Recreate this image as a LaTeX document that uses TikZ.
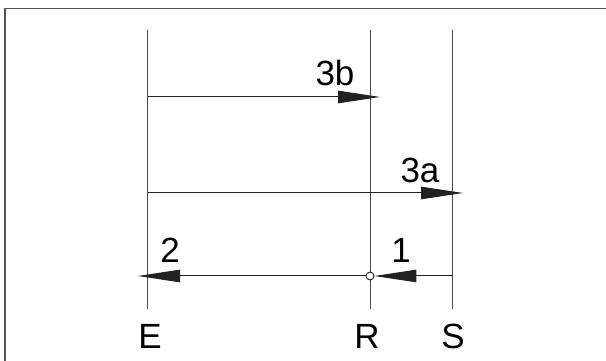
\documentclass[tikz,border=0pt]{standalone}
\usepackage{fontspec}
\setmainfont{Liberation Sans}
\usetikzlibrary{arrows.meta}
\definecolor{framegray}{HTML}{555555}
\definecolor{linegray}{HTML}{4A4A4A}
\definecolor{arrowline}{HTML}{222222}
\begin{document}
\begin{tikzpicture}[x=1pt,y=1pt,
  frameline/.style={draw=framegray, line width=1.4pt},
  axisline/.style={draw=linegray, line width=1pt},
  msgline/.style={draw=arrowline, line width=1pt, -{Triangle[length=42pt,width=12.5pt]}},
  lbl/.style={font=\fontsize{35}{35}\selectfont, inner sep=0pt}]
\useasboundingbox (0,0) rectangle (606,361);
\clip (0,0) rectangle (606,361);
\fill[white] (0,0) rectangle (606,361);
% frame (only top and left visible)
\draw[frameline] (5,-10) -- (5,352.5) -- (620,352.5);
% vertical lines
\coordinate (Etop) at (147.5,331);
\coordinate (Ebot) at (147.5,52);
\coordinate (Rtop) at (370,331);
\coordinate (Rbot) at (370,52);
\coordinate (Stop) at (452.5,331);
\coordinate (Sbot) at (452.5,52);
\draw[axisline] (Etop) -- (Ebot);
\draw[axisline] (Rtop) -- (Rbot);
\draw[axisline] (Stop) -- (Sbot);
% labels at bottom
\node[lbl] (E) at (150,25) {E};
\node[lbl] (R) at (367,25) {R};
\node[lbl] (S) at (453,25) {S};
% arrow 3b
\coordinate (b3s) at (147.5,264);
\coordinate (b3e) at (380,264);
\draw[msgline] (b3s) -- (b3e);
\node[lbl] (L3b) at (335,288) {3b};
% arrow 3a
\coordinate (a3s) at (147.5,168);
\coordinate (a3e) at (463,168);
\draw[msgline] (a3s) -- (a3e);
\node[lbl] (L3a) at (420,191) {3a};
% bottom arrows 1 and 2
\coordinate (m1s) at (452.5,85);
\node[circle, draw=arrowline, fill=white, line width=0.9pt, minimum size=8pt, inner sep=0pt] (Rc) at (370,85) {};
\coordinate (m2e) at (138,85);
\draw[msgline] (m1s) -- (Rc.east);
\draw[msgline] (Rc.west) -- (m2e);
\node[lbl] (L1) at (401,111) {1};
\node[lbl] (L2) at (170,111) {2};
\end{tikzpicture}
\end{document}
